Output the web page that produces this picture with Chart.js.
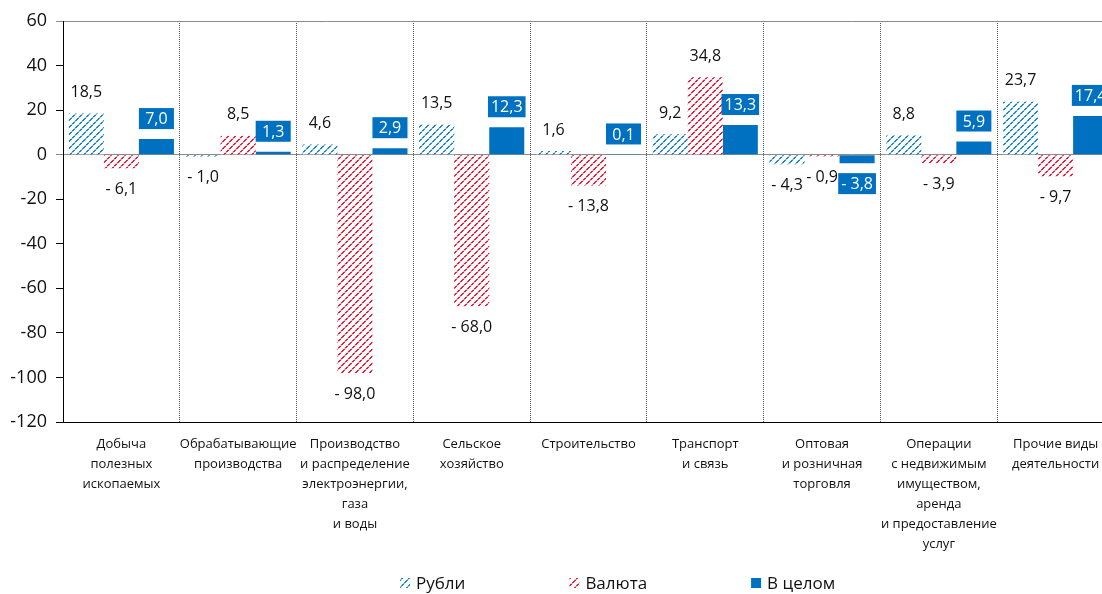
<!DOCTYPE html>
<html>
<head>
<meta charset="utf-8">
<script src="https://cdn.jsdelivr.net/npm/chart.js@4/dist/chart.umd.min.js"></script>
<style>
html,body{margin:0;padding:0;background:#fff;overflow:hidden;}
#wrap{width:1115px;height:594px;}
</style>
</head>
<body>
<div id="wrap"><canvas id="c" width="1115" height="594"></canvas></div>
<script>
const categories = [
  ["Добыча", "полезных", "ископаемых"],
  ["Обрабатывающие", "производства"],
  ["Производство", "и распределение", "электроэнергии,", "газа", "и воды"],
  ["Сельское", "хозяйство"],
  ["Строительство"],
  ["Транспорт", "и связь"],
  ["Оптовая", "и розничная", "торговля"],
  ["Операции", "с недвижимым", "имуществом,", "аренда", "и предоставление", "услуг"],
  ["Прочие виды", "деятельности"]
];
const seriesNames = ["Рубли", "Валюта", "В целом"];
const rubles = [18.5, -1.0, 4.6, 13.5, 1.6, 9.2, -4.3, 8.8, 23.7];
const currency = [-6.1, 8.5, -98.0, -68.0, -13.8, 34.8, -0.9, -3.9, -9.7];
const total = [7.0, 1.3, 2.9, 12.3, 0.1, 13.3, -3.8, 5.9, 17.4];
const yTicks = [60, 40, 20, 0, -20, -40, -60, -80, -100, -120];

const BLUE_HATCH = '#1e88cc';
const BLUE_LIGHT = '#8cc4e8';
const RED_HATCH = '#e8203c';
const RED_LIGHT = '#f4a0ac';
const SOLID = '#0070c0';
const FONT = '"Open Sans", "DejaVu Sans", sans-serif';

function hatch(color, light) {
  const n = 7;
  const c = document.createElement('canvas');
  c.width = n; c.height = n;
  const g = c.getContext('2d');
  g.fillStyle = '#ffffff';
  g.fillRect(0, 0, n, n);
  for (let y = 0; y < n; y++) {
    const x = n - 1 - y;
    g.fillStyle = (y % 3 === 2) ? light : color;
    g.fillRect(x, y, 1, 1);
    g.fillRect((x + 1) % n, y, 1, 1);
  }
  return c;
}
const ctx0 = document.getElementById('c').getContext('2d');
const patBlue = ctx0.createPattern(hatch(BLUE_HATCH, BLUE_LIGHT), 'repeat');
const patRed = ctx0.createPattern(hatch(RED_HATCH, RED_LIGHT), 'repeat');

function fmt(v) {
  const s = Math.abs(v).toFixed(1).replace('.', ',');
  return v < 0 ? '- ' + s : s;
}

const valueLabels = {
  id: 'valueLabels',
  afterDatasetsDraw(chart) {
    const ctx = chart.ctx;
    chart.data.datasets.forEach((ds, di) => {
      const meta = chart.getDatasetMeta(di);
      meta.data.forEach((bar, i) => {
        const v = ds.data[i];
        const txt = fmt(v);
        const p = bar.getProps(['x', 'y', 'base', 'width'], true);
        const up = v >= 0;
        ctx.save();
        ctx.font = '16px ' + FONT;
        ctx.textAlign = 'center';
        ctx.textBaseline = 'middle';
        if (di === 2) {
          const h = 21, gap = 10;
          const w = Math.max(p.width, ctx.measureText(txt).width + 6);
          const top = up ? p.y - gap - h : p.y + gap;
          ctx.fillStyle = SOLID;
          ctx.fillRect(p.x - w / 2, top, w, h);
          ctx.fillStyle = '#ffffff';
          ctx.fillText(txt, p.x, top + h / 2 + 1);
        } else {
          ctx.fillStyle = '#111111';
          ctx.fillText(txt, p.x, up ? p.y - 21 : p.y + 21);
        }
        ctx.restore();
      });
    });
  }
};

const customLegend = {
  id: 'customLegend',
  afterDraw(chart) {
    const ctx = chart.ctx;
    ctx.save();
    ctx.font = '17px ' + FONT;
    ctx.textBaseline = 'middle';
    ctx.textAlign = 'left';
    let x = 400;
    const cy = 583;
    chart.data.datasets.forEach((ds) => {
      ctx.fillStyle = ds.backgroundColor;
      ctx.fillRect(x, cy - 5, 10, 10);
      ctx.fillStyle = '#111111';
      ctx.fillText(ds.label, x + 16, cy + 1);
      x += 16 + ctx.measureText(ds.label).width + 104;
    });
    ctx.restore();
  }
};

new Chart(document.getElementById('c'), {
  type: 'bar',
  data: {
    labels: categories,
    datasets: [
      { label: seriesNames[0], data: rubles, backgroundColor: patBlue },
      { label: seriesNames[1], data: currency, backgroundColor: patRed },
      { label: seriesNames[2], data: total, backgroundColor: SOLID }
    ]
  },
  options: {
    responsive: false,
    devicePixelRatio: 1,
    animation: false,
    layout: { padding: { top: 21, right: 1, left: 0, bottom: 0 } },
    datasets: { bar: { categoryPercentage: 0.9, barPercentage: 1.0, borderWidth: 0 } },
    plugins: {
      legend: { display: false },
      tooltip: { enabled: false }
    },
    scales: {
      x: {
        grid: {
          color: (c) => (c.index === 0 ? 'rgba(0,0,0,0)' : '#555555'),
          lineWidth: 1,
          drawTicks: false,
          offset: true
        },
        border: { display: true, color: '#000000', width: 1, dash: [1, 1] },
        ticks: {
          autoSkip: false,
          maxRotation: 0,
          minRotation: 0,
          padding: 12,
          color: '#111111',
          font: { family: FONT, size: 13, lineHeight: '20px' }
        },
        afterFit(scale) { scale.height = 172; }
      },
      y: {
        min: -120,
        max: 60,
        afterBuildTicks(scale) { scale.ticks = yTicks.map(v => ({ value: v })); },
        grid: {
          color: (c) => (c.tick && (c.tick.value === 0 || c.tick.value === 60) ? '#8c8c8c' : 'rgba(0,0,0,0)'),
          tickColor: (c) => (c.tick && (c.tick.value === 0 || c.tick.value === 60) ? '#8c8c8c' : '#000000'),
          tickLength: 7,
          drawTicks: true
        },
        border: { display: true, color: '#000000', width: 1 },
        ticks: {
          padding: 9,
          color: '#111111',
          font: { family: FONT, size: 18 },
          callback: (v) => String(v)
        },
        afterFit(scale) { scale.width = 63; }
      }
    }
  },
  plugins: [valueLabels, customLegend]
});
</script>
</body>
</html>
